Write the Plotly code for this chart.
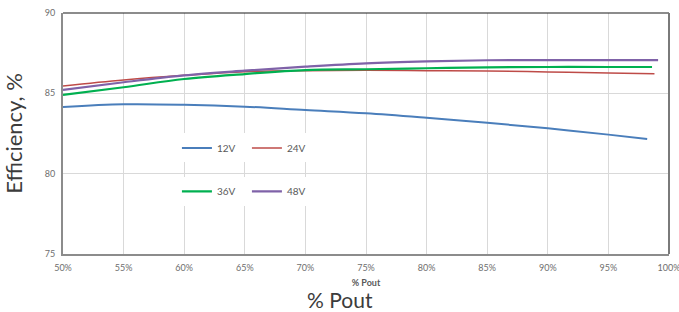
import plotly.graph_objects as go

pout = [0.50, 0.55, 0.60, 0.65, 0.70, 0.75, 0.80, 0.85, 0.90, 0.95]
end_12 = 0.982
end_24 = 0.988
end_36 = 0.986
end_48 = 0.991

eff_12 = [84.15, 84.32, 84.29, 84.17, 83.96, 83.76, 83.48, 83.17, 82.82, 82.43, 82.16]
eff_24 = [85.46, 85.83, 86.12, 86.35, 86.41, 86.43, 86.41, 86.39, 86.33, 86.27, 86.22]
eff_36 = [84.90, 85.38, 85.89, 86.20, 86.45, 86.50, 86.56, 86.62, 86.64, 86.64, 86.64]
eff_48 = [85.21, 85.69, 86.12, 86.41, 86.66, 86.87, 86.99, 87.06, 87.07, 87.07, 87.07]

series = [
    ("12V", pout + [end_12], eff_12, "#4a7ebb", 2, "legend"),
    ("24V", pout + [end_24], eff_24, "#be4b48", 1.5, "legend"),
    ("36V", pout + [end_36], eff_36, "#00b050", 2.2, "legend2"),
    ("48V", pout + [end_48], eff_48, "#7f62a8", 2.2, "legend2"),
]

fig = go.Figure()
for name, x, y, color, w, lg in series:
    fig.add_trace(go.Scatter(x=x, y=y, mode="lines", name=name,
                             line=dict(color=color, width=w, shape="spline"),
                             legend=lg))

font_family = "Lato, 'Open Sans', sans-serif"
tick_font = dict(family=font_family, size=9, color="#6e6e6e")
legend_font = dict(family=font_family, size=10, color="#595959")

fig.update_layout(
    width=679, height=312,
    margin=dict(l=63, r=10, t=13, b=58, autoexpand=False),
    paper_bgcolor="white", plot_bgcolor="white",
    showlegend=True,
    legend=dict(orientation="h", x=0.188, y=0.44, xanchor="left", yanchor="middle",
                bgcolor="white", font=legend_font, entrywidth=25, traceorder="normal"),
    legend2=dict(orientation="h", x=0.188, y=0.26, xanchor="left", yanchor="middle",
                 bgcolor="white", font=legend_font, entrywidth=25, traceorder="normal"),
    xaxis=dict(range=[0.5, 1.0], dtick=0.05, tickformat=".0%", showgrid=True,
               gridcolor="#d9d9d9", gridwidth=1, zeroline=False, automargin=False,
               showline=True, linecolor="#8c8c8c", linewidth=2,
               tickfont=tick_font, ticks="", ticklabeloverflow="allow", ticklabelstandoff=4,
               title=dict(text="<b>% Pout</b>", font=dict(family=font_family, size=9, color="#595959"), standoff=8)),
    yaxis=dict(range=[75, 90], dtick=5, showgrid=True, gridcolor="#d9d9d9", gridwidth=1,
               zeroline=False, showline=True, linecolor="#8c8c8c", linewidth=2, automargin=False,
               tickfont=tick_font, ticks="", ticklabelstandoff=4,
               title=dict(text="Efficiency, %", font=dict(family=font_family, size=22, color="#3c3c3c"), standoff=16)),
    shapes=[
        dict(type="rect", xref="paper", yref="paper", x0=0.173, x1=0.40, y0=0.16, y1=0.52,
             fillcolor="white", line=dict(width=0), layer="below"),
        dict(type="line", xref="paper", yref="paper", x0=0, x1=1, y0=1, y1=1,
             line=dict(color="#1a1a1a", width=1.2)),
        dict(type="line", xref="paper", yref="paper", x0=1, x1=1, y0=0, y1=1,
             line=dict(color="#7a7a7a", width=2)),
    ],
    annotations=[
        dict(text="% Pout", xref="paper", yref="paper", x=0.457, y=-0.19,
             xanchor="center", yanchor="middle", showarrow=False,
             font=dict(family=font_family, size=21, color="#3c3c3c")),
    ],
)

fig.write_html("out.html", config={"displayModeBar": False},
               post_script="document.body.style.margin='0';document.body.style.overflow='hidden';")
